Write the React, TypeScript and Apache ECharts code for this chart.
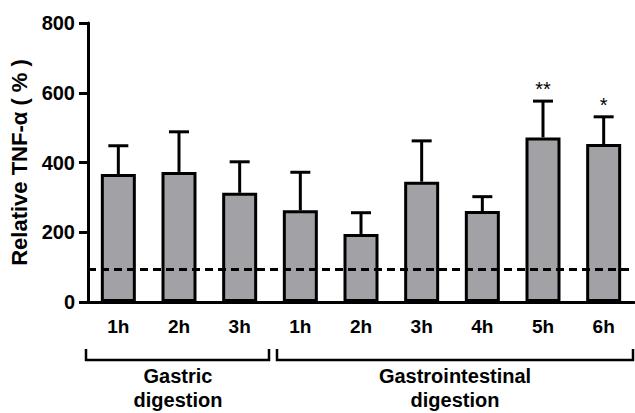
import React, { useEffect, useRef } from "react";
import * as echarts from "echarts";

const groups = ["Gastric", "Gastric", "Gastric", "Gastrointestinal", "Gastrointestinal", "Gastrointestinal", "Gastrointestinal", "Gastrointestinal", "Gastrointestinal"];
const times = ["1h", "2h", "3h", "1h", "2h", "3h", "4h", "5h", "6h"];
const means = [367, 373, 313, 263, 195, 345, 261, 472, 453];
const upperErr = [448, 488, 402, 372, 256, 462, 302, 576, 531];
const significance = ["", "", "", "", "", "", "", "**", "*"];
const controlLevel = 95;
const yTicks = [0, 200, 400, 600, 800];

const categories = times.map((t, i) => groups[i] + " " + t);

export default function App() {
  const ref = useRef<HTMLDivElement>(null);
  useEffect(() => {
    if (!ref.current) return;
    const chart = echarts.init(ref.current, null, { renderer: "svg" });
    const font = "'Liberation Sans', Arial, sans-serif";
    chart.setOption({
      animation: false,
      grid: { left: 88, right: 1, top: 23, bottom: 111 },
      xAxis: {
        type: "category",
        data: categories,
        axisLine: { lineStyle: { color: "#000", width: 3 } },
        axisTick: { alignWithLabel: true, length: 9, lineStyle: { color: "#000", width: 3 } },
        axisLabel: {
          formatter: (v: string) => v.split(" ")[1],
          color: "#000",
          fontWeight: "bold",
          fontSize: 19,
          fontFamily: font,
          margin: 15,
        },
      },
      yAxis: {
        type: "value",
        min: yTicks[0],
        max: yTicks[yTicks.length - 1],
        interval: 200,
        splitLine: { show: false },
        axisLine: { show: true, lineStyle: { color: "#000", width: 3 } },
        axisTick: { show: true, length: 9, lineStyle: { color: "#000", width: 3 } },
        axisLabel: { color: "#000", fontWeight: "bold", fontSize: 20, fontFamily: font, margin: 13 },
        name: "Relative TNF-α ( % )",
        nameLocation: "middle",
        nameRotate: 90,
        nameGap: 52,
        nameTextStyle: { color: "#000", fontWeight: "bold", fontSize: 22, fontFamily: font, padding: [0, 0, 0, 0] },
      },
      series: [
        {
          type: "bar",
          data: means,
          barWidth: 35,
          itemStyle: { color: "#a2a2a6", borderColor: "#000", borderWidth: 3 },
          z: 2,
        },
        {
          type: "custom",
          z: 3,
          data: means.map((m, i) => [i, m, upperErr[i]]),
          renderItem: (params: any, api: any) => {
            const i = api.value(0);
            const base = api.coord([i, api.value(1)]);
            const top = api.coord([i, api.value(2)]);
            const cap = 10;
            const children: any[] = [
              { type: "line", shape: { x1: base[0], y1: base[1], x2: top[0], y2: top[1] }, style: { stroke: "#000", lineWidth: 3 } },
              { type: "line", shape: { x1: top[0] - cap, y1: top[1], x2: top[0] + cap, y2: top[1] }, style: { stroke: "#000", lineWidth: 3 } },
            ];
            const sig = significance[params.dataIndex];
            if (sig) {
              children.push({
                type: "text",
                x: top[0],
                y: top[1] - 22,
                style: { text: sig, fill: "#000", fontSize: 20, fontFamily: font, align: "center", verticalAlign: "top" },
              });
            }
            return { type: "group", children };
          },
          markLine: {
            silent: true,
            symbol: "none",
            label: { show: false },
            lineStyle: { color: "#000", width: 3, type: [8, 5] },
            data: [{ yAxis: controlLevel }],
          },
        },
      ],
      graphic: [
        {
          type: "polyline",
          shape: { points: [[86, 349], [86, 360], [269, 360], [269, 349]] },
          style: { stroke: "#000", lineWidth: 2.5, fill: "none" },
        },
        {
          type: "polyline",
          shape: { points: [[277, 349], [277, 360], [633, 360], [633, 349]] },
          style: { stroke: "#000", lineWidth: 2.5, fill: "none" },
        },
        {
          type: "text",
          x: 178,
          y: 388,
          style: { text: "Gastric\ndigestion", fill: "#000", fontSize: 20, fontWeight: "bold", fontFamily: font, align: "center", verticalAlign: "middle", lineHeight: 24 },
        },
        {
          type: "text",
          x: 455,
          y: 388,
          style: { text: "Gastrointestinal\ndigestion", fill: "#000", fontSize: 20, fontWeight: "bold", fontFamily: font, align: "center", verticalAlign: "middle", lineHeight: 24 },
        },
      ],
    });
    return () => chart.dispose();
  }, []);
  return <div ref={ref} style={{ position: "fixed", left: 0, top: 0, width: 635, height: 413, background: "#fff" }} />;
}
